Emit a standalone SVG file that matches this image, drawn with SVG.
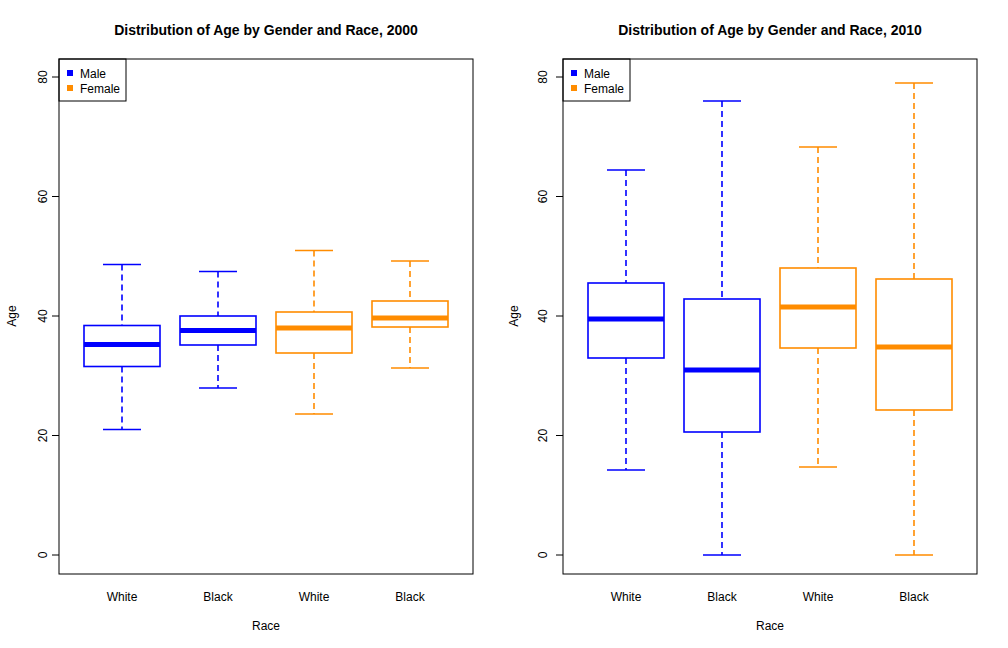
<svg xmlns="http://www.w3.org/2000/svg" width="1008" height="648" viewBox="0 0 1008 648">
<style>
text{font-family:"Liberation Sans",Arial,sans-serif;font-size:12px;fill:#000}
.t{font-weight:bold;font-size:14px}
.f{fill:none;stroke:#000;stroke-width:1}
.b{stroke:#0000ff}.o{stroke:#ff8c00}
.bx{fill:none;stroke-width:1.6}
.w{stroke-width:1.6;stroke-dasharray:6,4}
.c{stroke-width:1.6}
.m{stroke-width:5}
</style>
<rect width="1008" height="648" fill="#fff"/>
<text class="t" x="266" y="35" text-anchor="middle">Distribution of Age by Gender and Race, 2000</text>
<text class="t" x="770" y="35" text-anchor="middle">Distribution of Age by Gender and Race, 2010</text>
<g id="axes">
<rect class="f" x="59" y="59" width="414" height="515"/>
<rect class="f" x="563" y="59" width="414" height="515"/>
<path class="f" d="M59 555h-7M59 435.5h-7M59 316h-7M59 196.5h-7M59 77h-7M563 555h-7M563 435.5h-7M563 316h-7M563 196.5h-7M563 77h-7"/>
<g text-anchor="middle">
<text transform="translate(47,555) rotate(-90)">0</text><text transform="translate(47,435.5) rotate(-90)">20</text><text transform="translate(47,316) rotate(-90)">40</text><text transform="translate(47,196.5) rotate(-90)">60</text><text transform="translate(47,77) rotate(-90)">80</text>
<text transform="translate(547,555) rotate(-90)">0</text><text transform="translate(547,435.5) rotate(-90)">20</text><text transform="translate(547,316) rotate(-90)">40</text><text transform="translate(547,196.5) rotate(-90)">60</text><text transform="translate(547,77) rotate(-90)">80</text>
<text transform="translate(16,316) rotate(-90)">Age</text><text transform="translate(518,316) rotate(-90)">Age</text>
<text x="122" y="601">White</text><text x="218" y="601">Black</text><text x="314" y="601">White</text><text x="410" y="601">Black</text>
<text x="626" y="601">White</text><text x="722" y="601">Black</text><text x="818" y="601">White</text><text x="914" y="601">Black</text>
<text x="266" y="630">Race</text><text x="770" y="630">Race</text>
</g>
</g>
<g id="legend-left">
<rect class="f" x="59" y="59" width="67" height="42"/>
<rect x="67" y="70" width="6" height="6" fill="#0000ff"/><rect x="67" y="85" width="6" height="6" fill="#ff8c00"/>
<text x="80" y="78">Male</text><text x="80" y="93">Female</text>
</g>
<g id="legend-right">
<rect class="f" x="563" y="59" width="67" height="42"/>
<rect x="571" y="70" width="6" height="6" fill="#0000ff"/><rect x="571" y="85" width="6" height="6" fill="#ff8c00"/>
<text x="584" y="78">Male</text><text x="584" y="93">Female</text>
</g>
<g id="boxes">
<!-- left -->
<g class="b"><path class="w" d="M122 264.5V325.5M122 366.5V429.5"/><path class="c" d="M103 264.5h38M103 429.5h38"/><rect class="bx b" x="84" y="325.5" width="76" height="41"/><path class="m" d="M84 344.5h76"/></g>
<g class="b"><path class="w" d="M218 271.5V316M218 345V388"/><path class="c" d="M199 271.5h38M199 388h38"/><rect class="bx b" x="180" y="316" width="76" height="29"/><path class="m" d="M180 330.5h76"/></g>
<g class="o"><path class="w" d="M314 250.5V312M314 353V414"/><path class="c" d="M295 250.5h38M295 414h38"/><rect class="bx o" x="276" y="312" width="76" height="41"/><path class="m" d="M276 328h76"/></g>
<g class="o"><path class="w" d="M410 261V301M410 327V368"/><path class="c" d="M391 261h38M391 368h38"/><rect class="bx o" x="372" y="301" width="76" height="26"/><path class="m" d="M372 318h76"/></g>
<!-- right -->
<g class="b"><path class="w" d="M626 170V283M626 358V470"/><path class="c" d="M607 170h38M607 470h38"/><rect class="bx b" x="588" y="283" width="76" height="75"/><path class="m" d="M588 319h76"/></g>
<g class="b"><path class="w" d="M722 101V299M722 432V555"/><path class="c" d="M703 101h38M703 555h38"/><rect class="bx b" x="684" y="299" width="76" height="133"/><path class="m" d="M684 370h76"/></g>
<g class="o"><path class="w" d="M818 147V268M818 348V467"/><path class="c" d="M799 147h38M799 467h38"/><rect class="bx o" x="780" y="268" width="76" height="80"/><path class="m" d="M780 307h76"/></g>
<g class="o"><path class="w" d="M914 83V279M914 410V555"/><path class="c" d="M895 83h38M895 555h38"/><rect class="bx o" x="876" y="279" width="76" height="131"/><path class="m" d="M876 347h76"/></g>
</g>
</svg>
